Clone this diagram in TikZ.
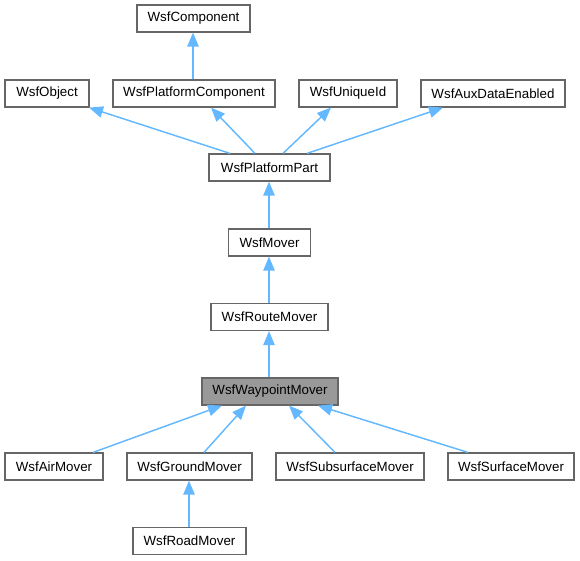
\documentclass[tikz,border=0pt]{standalone}
\usepackage{fontspec}
\setmainfont{Liberation Sans}
\usetikzlibrary{arrows.meta,calc}
\definecolor{edgeblue}{HTML}{63B8FF}
\definecolor{boxgray}{HTML}{666666}
\definecolor{hlfill}{HTML}{999999}
\tikzset{
  cls/.style={draw=boxgray, line width=0.9pt, fill=white, minimum height=27*0.75pt,
    inner sep=0pt, font=\fontsize{10pt}{12pt}\selectfont, text=black},
  hl/.style={cls, fill=hlfill},
  inh/.style={draw=edgeblue, line width=1.1pt,
    -{Triangle[length=10.5pt,width=8.5pt,fill=edgeblue]}},
}
\begin{document}
\begin{tikzpicture}[x=0.75pt,y=-0.75pt]
\useasboundingbox (0,0) rectangle (580,560);
% nodes
\node[cls, minimum width=113*0.75pt] (comp) at (193.5,18.5) {WsfComponent};
\node[cls, minimum width=84*0.75pt] (obj) at (47,93.5) {WsfObject};
\node[cls, minimum width=162*0.75pt] (pcomp) at (194,93.5) {WsfPlatformComponent};
\node[cls, minimum width=98*0.75pt] (uid) at (348,93.5) {WsfUniqueId};
\node[cls, minimum width=144*0.75pt] (aux) at (493,93.5) {WsfAuxDataEnabled};
\node[cls, minimum width=121*0.75pt] (ppart) at (269.5,167.5) {WsfPlatformPart};
\node[cls, minimum width=82*0.75pt] (mover) at (269.5,242.5) {WsfMover};
\node[cls, minimum width=117*0.75pt] (route) at (269.5,317) {WsfRouteMover};
\node[hl, minimum width=136*0.75pt] (way) at (270,391.5) {WsfWaypointMover};
\node[cls, minimum width=98*0.75pt] (air) at (54,466.5) {WsfAirMover};
\node[cls, minimum width=125*0.75pt] (ground) at (189.5,466.5) {WsfGroundMover};
\node[cls, minimum width=148*0.75pt] (subs) at (350,466.5) {WsfSubsurfaceMover};
\node[cls, minimum width=126*0.75pt] (surf) at (511,466.5) {WsfSurfaceMover};
\node[cls, minimum width=113*0.75pt] (road) at (189.5,541) {WsfRoadMover};
% edges
\draw[inh] ($(pcomp.north)+(-1,0)$) -- ($(comp.south)+(-0.5,0)$);
\draw[inh] ($(ppart.north)+(-39.5,0)$) -- ($(obj.south)+(42,0)$);
\draw[inh] ($(ppart.north)+(-14.5,0)$) -- ($(pcomp.south)+(17,0)$);
\draw[inh] ($(ppart.north)+(13.5,0)$) -- ($(uid.south)+(-17,0)$);
\draw[inh] ($(ppart.north)+(37.5,0)$) -- ($(aux.south)+(-50,0)$);
\draw[inh] ($(mover.north)+(-0.5,0)$) -- ($(ppart.south)+(-0.5,0)$);
\draw[inh] ($(route.north)+(-0.5,0)$) -- ($(mover.south)+(-0.5,0)$);
\draw[inh] ($(way.north)+(-1,0)$) -- ($(route.south)+(-0.5,0)$);
\draw[inh] ($(air.north)+(39,0)$) -- ($(way.south)+(-48,0)$);
\draw[inh] ($(ground.north)+(14.5,0)$) -- ($(way.south)+(-24,0)$);
\draw[inh] ($(subs.north)+(-15,0)$) -- ($(way.south)+(19,0)$);
\draw[inh] ($(surf.north)+(-43,0)$) -- ($(way.south)+(48,0)$);
\draw[inh] ($(road.north)+(-0.5,0)$) -- ($(ground.south)+(-0.5,0)$);
\end{tikzpicture}
\end{document}
